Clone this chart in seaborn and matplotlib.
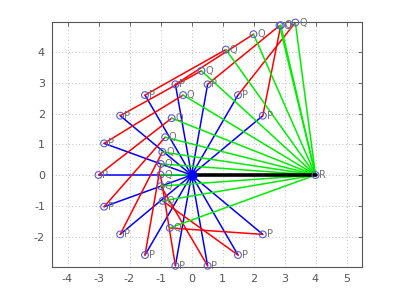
import matplotlib
matplotlib.use("Agg")
import matplotlib.pyplot as plt
import numpy as np
import pandas as pd
import seaborn as sns

# Fixed pivots (ground link O-R)
O_x, O_y = 0.0, 0.0
R_x, R_y = 4.0, 0.0

# Crank angles (deg) of the drawn frames
theta = [40, 60, 80, 100, 120, 140, 160, 180, 200, 220, 240, 260, 280, 300, 320]

# Crank tip P for each frame
P_x = [2.30, 1.50, 0.52, -0.52, -1.50, -2.30, -2.82, -3.00, -2.82, -2.30, -1.50, -0.52, 0.52, 1.50, 2.30]
P_y = [1.93, 2.60, 2.95, 2.95, 2.60, 1.93, 1.03, 0.00, -1.03, -1.93, -2.60, -2.95, -2.95, -2.60, -1.93]

# Coupler / rocker joint Q for each frame
Q_x = [2.88, 3.35, 2.84, 2.00, 1.11, 0.32, -0.27, -0.64, -0.85, -0.94, -0.99, -1.00, -0.99, -0.93, -0.70]
Q_y = [4.87, 4.96, 4.86, 4.58, 4.08, 3.39, 2.60, 1.85, 1.23, 0.75, 0.36, 0.01, -0.36, -0.84, -1.72]

x_ticks = [-4, -3, -2, -1, 0, 1, 2, 3, 4, 5]
y_ticks = [-2, -1, 0, 1, 2, 3, 4]

rows = []
for i in range(len(theta)):
    rows += [dict(seg=f"c{i}", link="crank", x=O_x, y=O_y),
             dict(seg=f"c{i}", link="crank", x=P_x[i], y=P_y[i]),
             dict(seg=f"k{i}", link="coupler", x=P_x[i], y=P_y[i]),
             dict(seg=f"k{i}", link="coupler", x=Q_x[i], y=Q_y[i]),
             dict(seg=f"r{i}", link="rocker", x=Q_x[i], y=Q_y[i]),
             dict(seg=f"r{i}", link="rocker", x=R_x, y=R_y)]
seg_df = pd.DataFrame(rows)
ground_df = pd.DataFrame(dict(x=[O_x, R_x], y=[O_y, R_y]))

sns.set_style("white")
fig = plt.figure(figsize=(4, 3), dpi=100)
ax = fig.add_axes([0.13, 0.11, 0.775, 0.817])

ax.grid(True, linestyle=(0, (1, 3)), color="#a8a8a8", linewidth=0.6)
ax.set_axisbelow(True)

sns.lineplot(data=seg_df, x="x", y="y", units="seg", hue="link",
             hue_order=["crank", "coupler", "rocker"],
             palette={"crank": "#0000ff", "coupler": "#ff0000", "rocker": "#00ee00"},
             estimator=None, sort=False, legend=False, linewidth=1.1, ax=ax)
sns.lineplot(data=ground_df, x="x", y="y", color="black", linewidth=2.6,
             estimator=None, sort=False, ax=ax)

pts_df = pd.DataFrame(dict(x=P_x + Q_x + [O_x, R_x], y=P_y + Q_y + [O_y, R_y]))
sns.scatterplot(data=pts_df, x="x", y="y", marker="o", s=24, facecolor="none",
                edgecolor="#5a5ad0", linewidth=0.8, ax=ax, zorder=5, clip_on=False)

lab_col = "#707070"
for i in range(len(theta)):
    ax.text(P_x[i] + 0.12, P_y[i], "P", color=lab_col, fontsize=7, va="center", ha="left")
    ax.text(Q_x[i] + 0.12, Q_y[i], "Q", color=lab_col, fontsize=7, va="center", ha="left",
            clip_on=False)
ax.text(R_x + 0.12, R_y, "R", color=lab_col, fontsize=7, va="center", ha="left")
ax.scatter([O_x], [O_y], s=40, color="#0000ff", zorder=6)

ax.set_xlim(-4.5, 5.5)
ax.set_ylim(-2.99, 4.98)
ax.set_xticks(x_ticks)
ax.set_yticks(y_ticks)
ax.set_xticklabels([str(t) for t in x_ticks])
ax.set_yticklabels([str(t) for t in y_ticks])
ax.set_xlabel("")
ax.set_ylabel("")
ax.tick_params(direction="in", length=3, width=0.6, colors="#555555", labelsize=8,
               top=True, right=True, pad=5)
for sp in ax.spines.values():
    sp.set_color("#555555")
    sp.set_linewidth(0.8)

fig.savefig("out.png", dpi=100)
